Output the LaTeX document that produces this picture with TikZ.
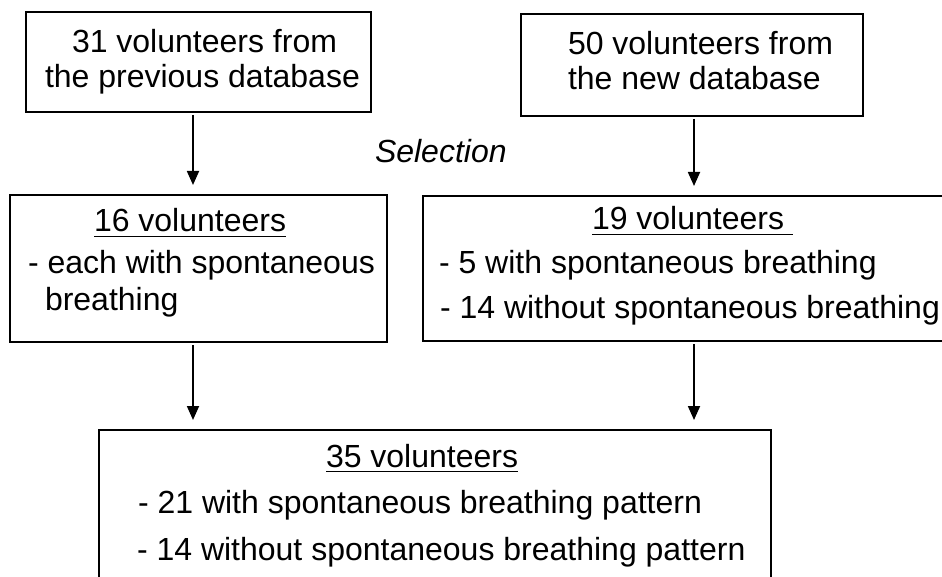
\documentclass[tikz,border=0pt]{standalone}
\usepackage{fontspec}
\setmainfont{Liberation Sans}
\usetikzlibrary{arrows.meta}

\tikzset{
  box/.style={draw, line width=1.8pt, rectangle, inner sep=0pt, outer sep=0pt, anchor=north west},
  txt/.style={anchor=base west, inner sep=0pt, outer sep=0pt, font=\fontsize{32}{38}\selectfont},
  itxt/.style={txt, font=\fontsize{32}{38}\selectfont\itshape},
  flow/.style={line width=1.8pt, -{Triangle[length=14pt,width=12pt]}, shorten >=10pt, shorten <=3pt},
  ul/.style={line width=1.6pt}
}

\begin{document}
\begin{tikzpicture}[x=1pt, y=-1pt]
  \useasboundingbox (0,0) rectangle (942,577);
  \clip (0,0) rectangle (942,577);

  % boxes
  \node[box, minimum width=345pt, minimum height=100pt] (b1) at (26,12) {};
  \node[box, minimum width=342pt, minimum height=102pt] (b2) at (521,14) {};
  \node[box, minimum width=377pt, minimum height=147pt] (b3) at (10,195) {};
  \node[box, minimum width=537pt, minimum height=145pt] (b4) at (423,196) {};
  \node[box, minimum width=672pt, minimum height=170pt] (b5) at (99,430) {};

  % texts of the source boxes
  \node[txt] (t1a) at (72,53) {31 volunteers from};
  \node[txt] (t1b) at (45,88) {the previous database};
  \node[txt] (t2a) at (568,55) {50 volunteers from};
  \node[txt] (t2b) at (568,90) {the new database};
  \node[itxt] (sel) at (375,163) {Selection};

  % selected groups
  \node[txt] (h3) at (94,232) {16 volunteers};
  \node[txt] (t3a) at (28,273) {- each with spontaneous};
  \node[txt] (t3b) at (45,310) {breathing};
  \draw[ul] ([yshift=-4.5pt]h3.base west) -- ([yshift=-4.5pt]h3.base east);

  \node[txt] (h4) at (592,230) {19 volunteers};
  \node[txt] (t4a) at (439,273) {- 5 with spontaneous breathing};
  \node[txt] (t4b) at (440,318) {- 14 without spontaneous breathing};
  \draw[ul] ([yshift=-4.5pt]h4.base west) -- ([yshift=-4.5pt,xshift=9pt]h4.base east);

  % merged group
  \node[txt] (h5) at (326,467) {35 volunteers};
  \node[txt] (t5a) at (138,513) {- 21 with spontaneous breathing pattern};
  \node[txt] (t5b) at (137,560) {- 14 without spontaneous breathing pattern};
  \draw[ul] ([yshift=-4.5pt]h5.base west) -- ([yshift=-4.5pt]h5.base east);

  % arrow columns
  \coordinate (cl) at (193,0);
  \coordinate (cr) at (694,0);

  \draw[flow] (b1.south -| cl) -- (b3.north -| cl);
  \draw[flow] (b2.south -| cr) -- (b4.north -| cr);
  \draw[flow] (b3.south -| cl) -- (b5.north -| cl);
  \draw[flow] (b4.south -| cr) -- (b5.north -| cr);
\end{tikzpicture}
\end{document}
